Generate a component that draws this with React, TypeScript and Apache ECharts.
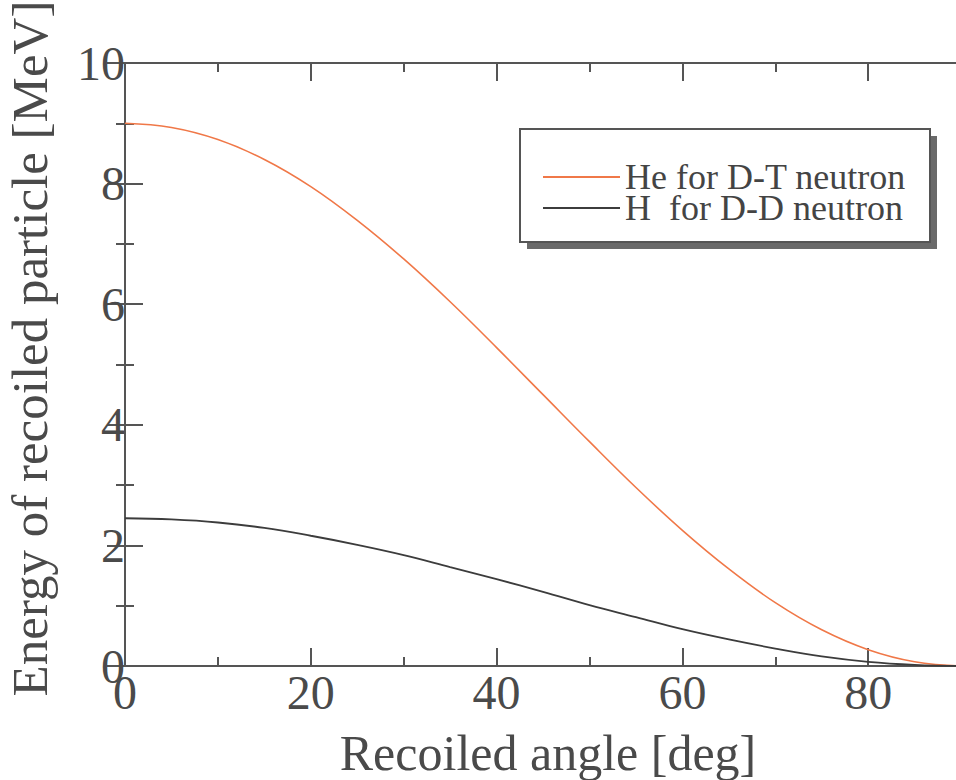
import React, { useEffect, useRef } from "react";
import * as echarts from "echarts";

const angles = [0, 5, 10, 15, 20, 25, 30, 35, 40, 45, 50, 55, 60, 65, 70, 75, 80, 85, 90];
const heDT = [9.0, 8.93, 8.73, 8.4, 7.95, 7.39, 6.75, 6.04, 5.28, 4.5, 3.72, 2.96, 2.25, 1.61, 1.05, 0.6, 0.27, 0.07, 0.0];
const hDD = [2.45, 2.43, 2.38, 2.29, 2.16, 2.01, 1.84, 1.64, 1.44, 1.23, 1.01, 0.81, 0.61, 0.44, 0.29, 0.16, 0.07, 0.02, 0.0];
const seriesNames = ["He for D-T neutron", "H  for D-D neutron"];
const xTitle = "Recoiled angle [deg]";
const yTitle = "Energy of recoiled particle [MeV]";

const FONT = "Liberation Serif";
const AXIS = "#555555";
const TEXT = "#4a4a4a";
const W = 1060;

export default function App() {
  const ref = useRef<HTMLDivElement>(null);
  useEffect(() => {
    if (!ref.current) return;
    const chart = echarts.init(ref.current, undefined, { renderer: "svg" });
    const axisLine = { show: true, lineStyle: { color: AXIS, width: 2 } };
    const tick = { show: true, inside: true, length: 18, lineStyle: { color: AXIS, width: 2 } };
    const minor = { show: true, splitNumber: 2, length: 9, lineStyle: { color: AXIS, width: 2 } };
    const xBase = { type: "value", min: 0, max: 100, interval: 20, splitLine: { show: false }, axisLine, axisTick: tick, minorTick: minor };
    const yBase = { type: "value", min: 0, max: 10, interval: 2, splitLine: { show: false }, axisLine, axisTick: tick, minorTick: minor };
    chart.setOption({
      animation: false,
      backgroundColor: "#ffffff",
      grid: [
        { left: 125, top: 63, right: W - 1054, bottom: 114, containLabel: false, outerBoundsMode: "none" },
        { left: 125, top: 63, right: W - 961, bottom: 114, containLabel: false, outerBoundsMode: "none" },
      ],
      xAxis: [
        {
          ...xBase,
          gridIndex: 0,
          position: "bottom",
          axisLabel: { show: true, fontFamily: FONT, fontSize: 48, color: TEXT, margin: 2, showMaxLabel: false },
          name: xTitle,
          nameLocation: "middle",
          nameGap: 62,
          nameTextStyle: { fontFamily: FONT, fontSize: 50, color: TEXT, padding: [0, 83, 0, 0] },
        },
        { ...xBase, gridIndex: 0, position: "top", axisLabel: { show: false } },
        { type: "value", gridIndex: 1, min: 0, max: 90, show: false },
      ],
      yAxis: [
        {
          ...yBase,
          gridIndex: 0,
          position: "left",
          axisLabel: { show: true, fontFamily: FONT, fontSize: 48, color: TEXT, margin: 0 },
          name: yTitle,
          nameLocation: "middle",
          nameGap: 70,
          nameTextStyle: { fontFamily: FONT, fontSize: 51, color: TEXT, padding: [0, 0, 0, 32] },
        },
        { ...yBase, gridIndex: 1, position: "right", axisLabel: { show: false } },
      ],
      legend: {
        show: true,
        orient: "vertical",
        left: 543,
        top: 159,
        padding: 0,
        itemWidth: 77,
        itemHeight: 2,
        itemGap: -5,
        icon: "rect",
        data: seriesNames,
        textStyle: { fontFamily: FONT, fontSize: 36, color: "#444444" },
        z: 10,
      },
      graphic: [
        { type: "rect", shape: { x: 527, y: 136, width: 410, height: 113 }, style: { fill: "#6a6a6a" }, z: 1 },
        { type: "rect", shape: { x: 520, y: 129, width: 410, height: 113 }, style: { fill: "#ffffff", stroke: "#555555", lineWidth: 2 }, z: 2 },
      ],
      series: [
        {
          name: seriesNames[0],
          type: "line",
          xAxisIndex: 0,
          yAxisIndex: 0,
          data: angles.map((a, i) => [a, heDT[i]]),
          smooth: 0.4,
          symbol: "none",
          lineStyle: { color: "#f07848", width: 1.6 },
          itemStyle: { color: "#f07848" },
          z: 3,
        },
        {
          name: seriesNames[1],
          type: "line",
          xAxisIndex: 0,
          yAxisIndex: 0,
          data: angles.map((a, i) => [a, hDD[i]]),
          smooth: 0.4,
          symbol: "none",
          lineStyle: { color: "#3c3c3c", width: 1.8 },
          itemStyle: { color: "#3c3c3c" },
          z: 3,
        },
      ],
    });
    return () => chart.dispose();
  }, []);
  return (
    <div
      ref={ref}
      style={{ position: "fixed", left: 0, top: 0, width: W, height: 780, background: "#fff" }}
    />
  );
}
